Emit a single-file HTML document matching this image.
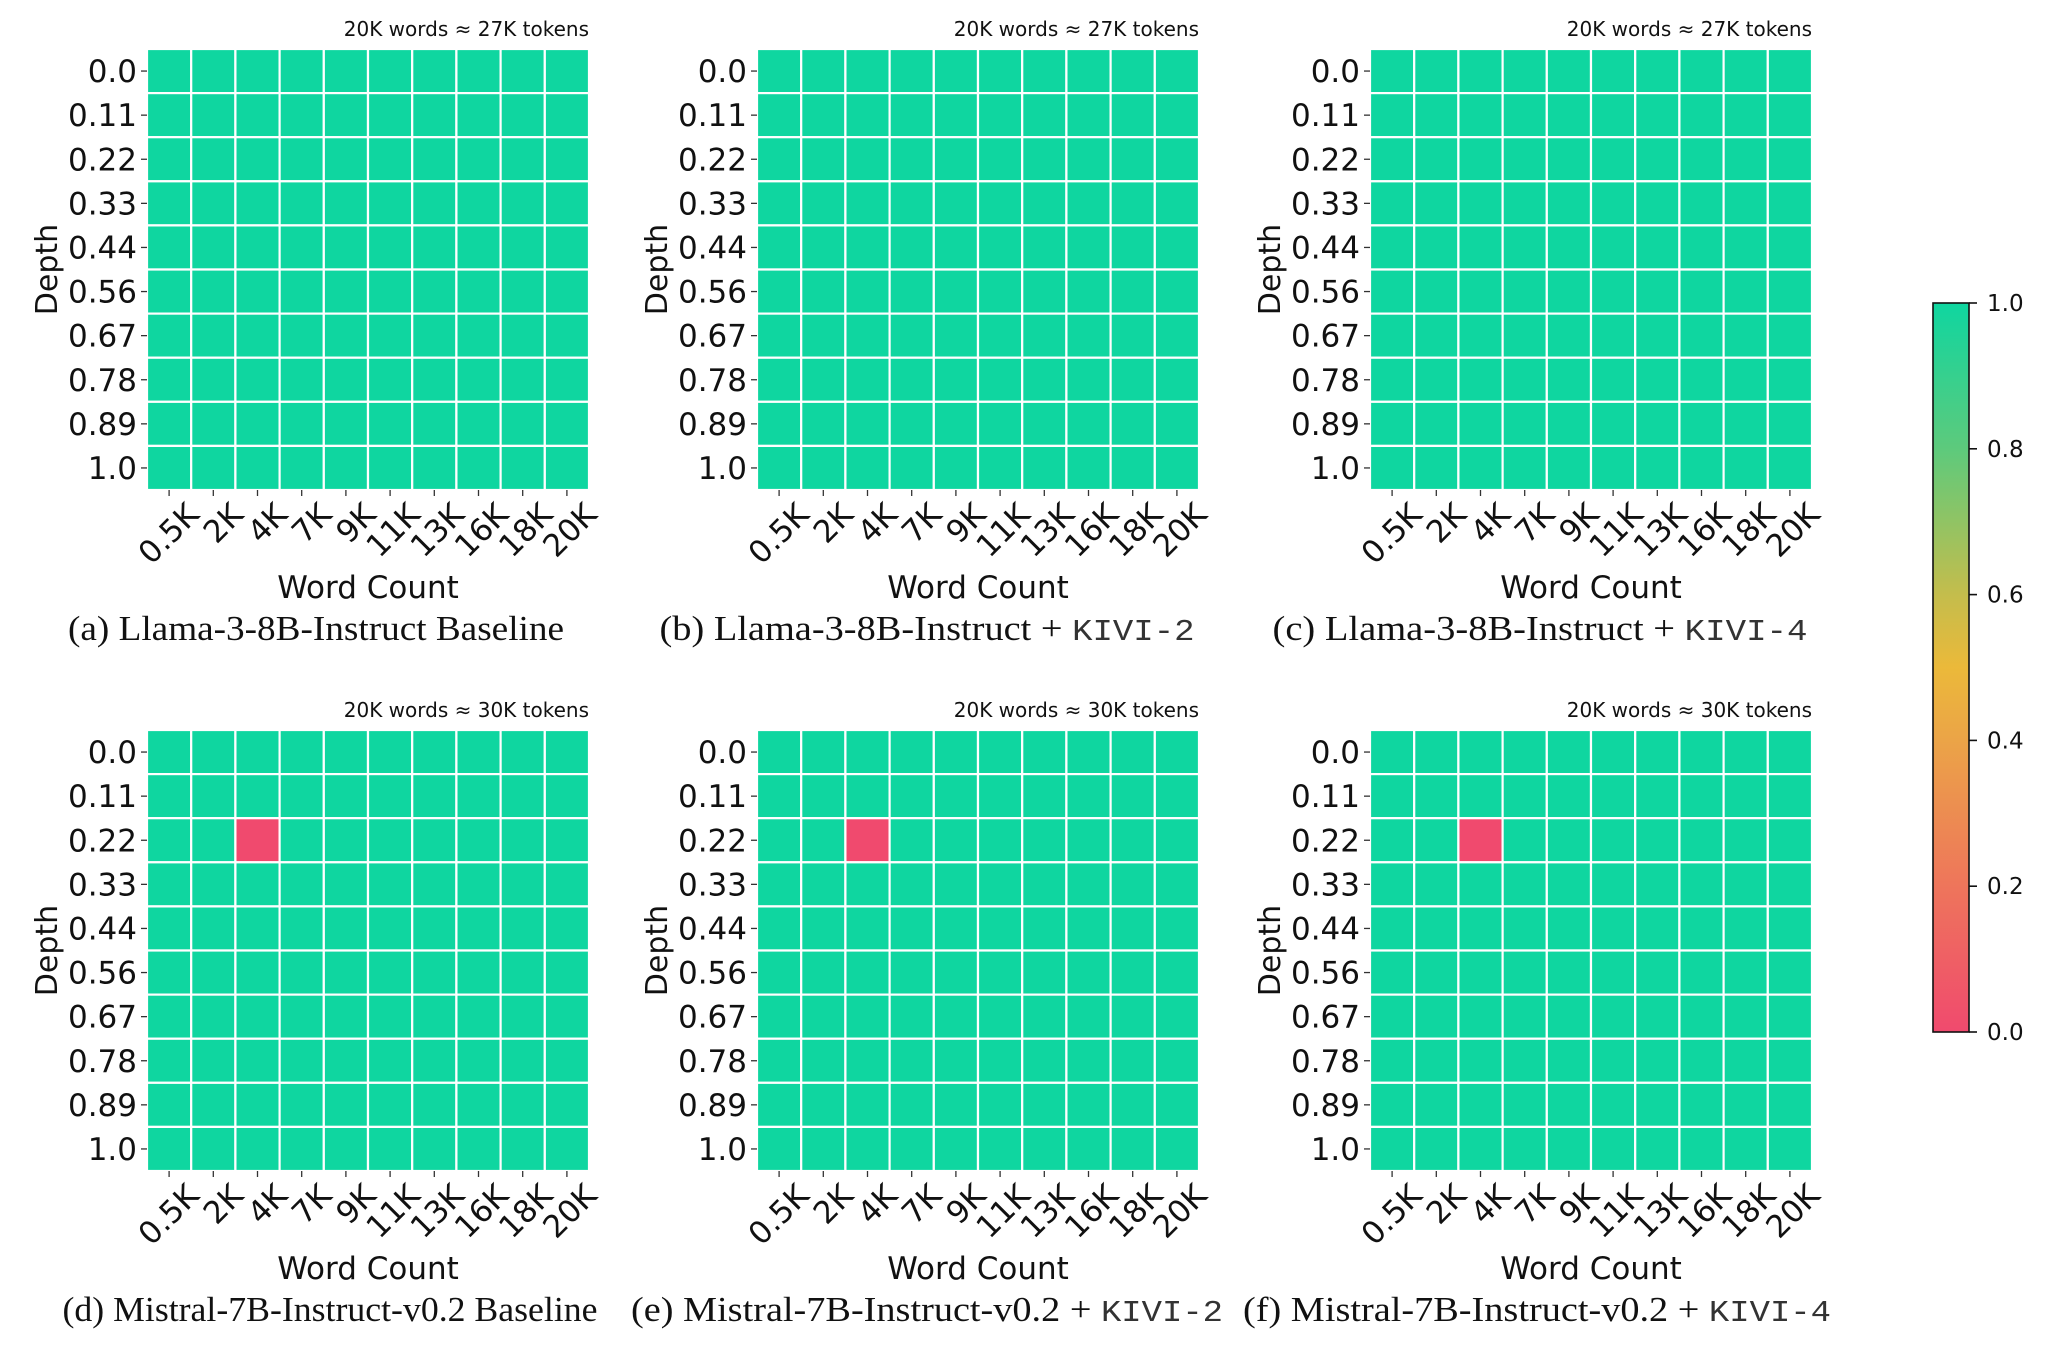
<!DOCTYPE html>
<html><head><meta charset="utf-8"><style>
html,body{margin:0;padding:0;background:#fff;}
svg{display:block;}
</style></head><body>
<svg id="fig" width="2048" height="1345" viewBox="0 0 2048 1345" xmlns="http://www.w3.org/2000/svg">
<defs>
<linearGradient id="cbgrad" x1="0" y1="1" x2="0" y2="0">
<stop offset="0" stop-color="#f04a6e"/>
<stop offset="0.2" stop-color="#ee755b"/>
<stop offset="0.4" stop-color="#eba447"/>
<stop offset="0.5" stop-color="#ebb93a"/>
<stop offset="0.6" stop-color="#c4bd4c"/>
<stop offset="0.8" stop-color="#5dca7c"/>
<stop offset="1" stop-color="#0fd6a0"/>
</linearGradient>
</defs>
</svg>
<script>
const depthLabels = ["0.0","0.11","0.22","0.33","0.44","0.56","0.67","0.78","0.89","1.0"];
const wordLabels = ["0.5K","2K","4K","7K","9K","11K","13K","16K","18K","20K"];
const panelTitles = ["Llama-3-8B-Instruct Baseline","Llama-3-8B-Instruct + ","Llama-3-8B-Instruct + ","Mistral-7B-Instruct-v0.2 Baseline","Mistral-7B-Instruct-v0.2 + ","Mistral-7B-Instruct-v0.2 + "];
const panelMono = ["","KIVI-2","KIVI-4","","KIVI-2","KIVI-4"];
const panelLetters = ["a","b","c","d","e","f"];
const panelNotes = ["20K words ≈ 27K tokens","20K words ≈ 27K tokens","20K words ≈ 27K tokens","20K words ≈ 30K tokens","20K words ≈ 30K tokens","20K words ≈ 30K tokens"];
// failing cells per panel: [depthIndex, wordIndex, score]
const failA = [], failB = [], failC = [];
const failD = [[2,2,0.0]], failE = [[2,2,0.0]], failF = [[2,2,0.0]];
const panelFails = [failA, failB, failC, failD, failE, failF];
const cbTicks = [0.0,0.2,0.4,0.6,0.8,1.0];

const NS = "http://www.w3.org/2000/svg";
const svg = document.getElementById('fig');
function el(tag, attrs, parent, text){
  const e = document.createElementNS(NS, tag);
  for (const k in attrs) e.setAttribute(k, attrs[k]);
  if (text !== undefined) e.textContent = text;
  (parent||svg).appendChild(e);
  return e;
}
function colorFor(v){
  const stops=[[0,[240,74,110]],[0.2,[238,117,91]],[0.4,[235,164,71]],[0.5,[235,185,58]],[0.6,[196,189,76]],[0.8,[93,202,124]],[1,[15,214,160]]];
  for(let i=1;i<stops.length;i++){ if(v<=stops[i][0]){const a=stops[i-1],b=stops[i];const t=(v-a[0])/(b[0]-a[0]);
    const c=a[1].map((x,j)=>Math.round(x+(b[1][j]-x)*t));return `rgb(${c[0]},${c[1]},${c[2]})`;}}
  return 'rgb(15,214,160)';
}
const colX = [147, 757, 1370];
const rowY = [49, 730];
const W = 442, H = 441;
const capCenters = [316, 927, 1540, 330, 927, 1537];
const capLens = [496, 535, 535, 535, 592, 588];

for (let p=0;p<6;p++){
  const x0 = colX[p%3], y0 = rowY[Math.floor(p/3)];
  const g = el('g', {});
  
  
  const nx = wordLabels.length, ny = depthLabels.length;
  const cw = W/nx, ch = H/ny;
  const xs = i => x0 + i*cw;
  const ys = j => y0 + j*ch;
  const scores = depthLabels.map(()=>wordLabels.map(()=>1.0));
  panelFails[p].forEach(f=>{scores[f[0]][f[1]] = f[2];});
  for (let j=0;j<ny;j++) for (let i=0;i<nx;i++){
    const r = el('rect', {x:xs(i), y:ys(j), width:cw, height:ch, fill:colorFor(scores[j][i]), stroke:'#ffffff', 'stroke-width':2.2}, g);
    
    
  }
  for (let j=0;j<ny;j++){
    const cy = ys(j)+ch/2;
    el('line',{x1:x0-6,x2:x0,y1:cy,y2:cy,stroke:'#333','stroke-width':1.3},g);
    const t = el('text',{x:x0-10,y:cy+11,'text-anchor':'end','font-family':'DejaVu Sans, sans-serif','font-size':31,fill:'#111'},g,depthLabels[j]);
    
    
  }
  for (let i=0;i<nx;i++){
    const cx = xs(i)+cw/2, yb = y0+H;
    el('line',{x1:cx,x2:cx,y1:yb,y2:yb+6,stroke:'#333','stroke-width':1.3},g);
    const t = el('text',{transform:`translate(${cx+14},${yb+9}) rotate(-45)`,'text-anchor':'end','font-family':'DejaVu Sans, sans-serif','font-size':31,fill:'#111',dy:'0.8em'},g,wordLabels[i]);
    
    
  }
  const yl = el('text',{transform:`translate(${x0-90},${y0+H/2}) rotate(-90)`,'text-anchor':'middle','font-family':'DejaVu Sans, sans-serif','font-size':30,fill:'#111'},g,'Depth');
  
  
  const xl = el('text',{x:x0+W/2,y:y0+H+108,'text-anchor':'middle','font-family':'DejaVu Sans, sans-serif','font-size':31,fill:'#111'},g,'Word Count');
  
  
  const nt = el('text',{x:x0+W,y:y0-13,'text-anchor':'end','font-family':'DejaVu Sans, sans-serif','font-size':20,fill:'#111'},g,panelNotes[p]);
  
  
  const cap = el('text',{x:capCenters[p],y:y0+H+150,'text-anchor':'middle','font-family':'Liberation Serif, serif','font-size':35,fill:'#111',textLength:capLens[p],lengthAdjust:'spacingAndGlyphs'},g);
  
  
  el('tspan',{},cap,'('+panelLetters[p]+') '+panelTitles[p]);
  if (panelMono[p]) el('tspan',{'font-family':'Liberation Mono, monospace','font-size':31,fill:'#333'},cap,panelMono[p]);
}
const cbx=1933, cby=303, cbw=36, cbh=729;
const cb = el('g',{});


el('rect',{x:cbx,y:cby,width:cbw,height:cbh,fill:'url(#cbgrad)',stroke:'#111','stroke-width':1.6},cb);
cbTicks.forEach(v=>{
  const y = cby + (1-v)*cbh;
  el('line',{x1:cbx+cbw,x2:cbx+cbw+8,y1:y,y2:y,stroke:'#111','stroke-width':1.6},cb);
  const t = el('text',{x:cbx+cbw+18,y:y+8,'font-family':'DejaVu Sans, sans-serif','font-size':23,fill:'#111'},cb,v.toFixed(1));
  
  
});
</script>
</body></html>
